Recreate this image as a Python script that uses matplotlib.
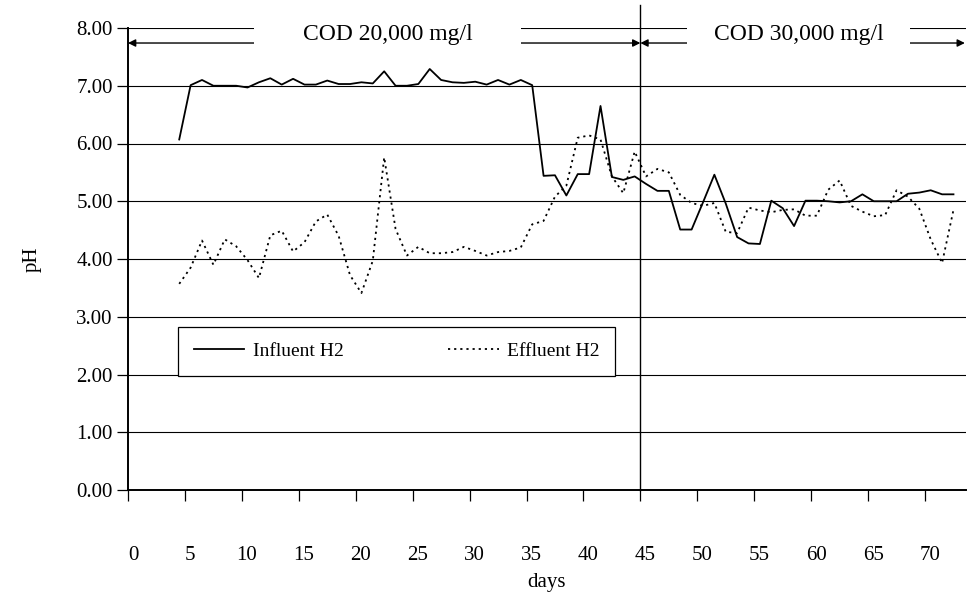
import numpy as np
import matplotlib
matplotlib.use("Agg")
import matplotlib.pyplot as plt
from matplotlib.patches import Rectangle
from matplotlib.transforms import ScaledTranslation

plt.rcParams['font.family'] = ['Liberation Serif', 'DejaVu Serif']

# days of operation (one reading per day)
days = np.arange(4, 73)

influent_h2 = [6.07, 7.01, 7.10, 7.00, 7.00, 7.00, 6.97, 7.06, 7.13, 7.02,
               7.12, 7.02, 7.02, 7.09, 7.03, 7.03, 7.06, 7.04, 7.25, 7.00,
               7.00, 7.03, 7.29, 7.10, 7.06, 7.05, 7.07, 7.02, 7.10, 7.02,
               7.10, 7.01, 5.44, 5.45, 5.10, 5.47, 5.47, 6.65, 5.42, 5.37,
               5.43, 5.30, 5.18, 5.18, 4.51, 4.51, 4.98, 5.46, 4.96, 4.38,
               4.27, 4.26, 5.01, 4.88, 4.57, 5.01, 5.01, 5.00, 4.98, 5.00,
               5.12, 5.00, 5.00, 5.00, 5.13, 5.15, 5.19, 5.12, 5.12]

effluent_h2 = [3.57, 3.85, 4.32, 3.90, 4.34, 4.22, 3.98, 3.67, 4.41, 4.49,
               4.13, 4.29, 4.65, 4.77, 4.40, 3.72, 3.41, 3.97, 5.76, 4.52,
               4.06, 4.21, 4.10, 4.10, 4.12, 4.21, 4.14, 4.06, 4.12, 4.14,
               4.20, 4.60, 4.66, 5.08, 5.27, 6.10, 6.14, 6.07, 5.43, 5.14,
               5.86, 5.43, 5.56, 5.50, 5.11, 4.97, 4.92, 4.97, 4.47, 4.45,
               4.89, 4.84, 4.81, 4.85, 4.86, 4.75, 4.75, 5.20, 5.36, 4.92,
               4.82, 4.74, 4.76, 5.19, 5.08, 4.87, 4.34, 3.93, 4.85]

phase_change = 45
phase_labels = ["COD 20,000 mg/l", "COD 30,000 mg/l"]

fig = plt.figure(figsize=(9.68, 5.98), dpi=100)
ax = fig.add_axes([128 / 968, 1 - 490 / 598, 838 / 968, 462 / 598])

# Excel-style category placement: points sit between tick marks
x = days + 0.5
ax.plot(x, influent_h2, color='black', lw=1.3, label="Influent H2", zorder=3)
ax.plot(x, effluent_h2, color='black', lw=1.3, linestyle=(0, (1.2, 2.2)),
        label="Effluent H2", zorder=3)

ax.set_xlim(0, 73.6)
ax.set_ylim(0, 8)
ax.set_yticks(np.arange(0, 9, 1))
ax.set_yticklabels([f"{v:.2f}" for v in np.arange(0, 9, 1)])
ax.set_xticks(np.arange(0, 71, 5))
ax.yaxis.grid(True, color='black', lw=0.8)
ax.set_axisbelow(True)

for side in ['top', 'right']:
    ax.spines[side].set_visible(False)
for side in ['left', 'bottom']:
    ax.spines[side].set_linewidth(1.4)

ax.tick_params(axis='y', direction='out', length=8, width=0.9, labelsize=15, pad=3)
ax.tick_params(axis='x', direction='out', length=8, width=0.9, labelsize=15, pad=32)
offset = ScaledTranslation(5 / 100, 0, fig.dpi_scale_trans)
for lbl in ax.get_xticklabels():
    lbl.set_transform(lbl.get_transform() + offset)

ax.set_xlabel("days", fontsize=15, labelpad=6)
ax.set_ylabel("pH", fontsize=15, labelpad=25)

# phase boundary and arrows
ax.plot([phase_change, phase_change], [0, 8.4], color='black', lw=1, clip_on=False, zorder=4)
arrow_y = 7.74
ax.annotate('', xy=(0, arrow_y), xytext=(phase_change, arrow_y), annotation_clip=False,
            arrowprops=dict(arrowstyle='<|-|>', color='black', lw=1,
                            shrinkA=0, shrinkB=0, mutation_scale=11), zorder=3)
ax.annotate('', xy=(phase_change, arrow_y), xytext=(73.5, arrow_y), annotation_clip=False,
            arrowprops=dict(arrowstyle='<|-|>', color='black', lw=1,
                            shrinkA=0, shrinkB=0, mutation_scale=11), zorder=3)

label_boxes = [(11.1, 34.5), (49.1, 68.7)]
for (x0, x1), txt in zip(label_boxes, phase_labels):
    ax.add_patch(Rectangle((x0, 7.6), x1 - x0, 0.6, facecolor='white',
                           edgecolor='none', clip_on=False, zorder=5))
    ax.text((x0 + x1) / 2, 7.88, txt, ha='center', va='center', fontsize=17, zorder=6)

leg = ax.legend(ncol=2, loc='center', bbox_to_anchor=(0.0597, 0.247, 0.522, 0.106),
                mode='expand', fontsize=14, frameon=True, fancybox=False,
                edgecolor='black', framealpha=1, handlelength=2.6,
                handletextpad=0.45, borderpad=0.8, borderaxespad=0)
leg.get_frame().set_linewidth(0.9)

fig.savefig("out.png", dpi=100)
